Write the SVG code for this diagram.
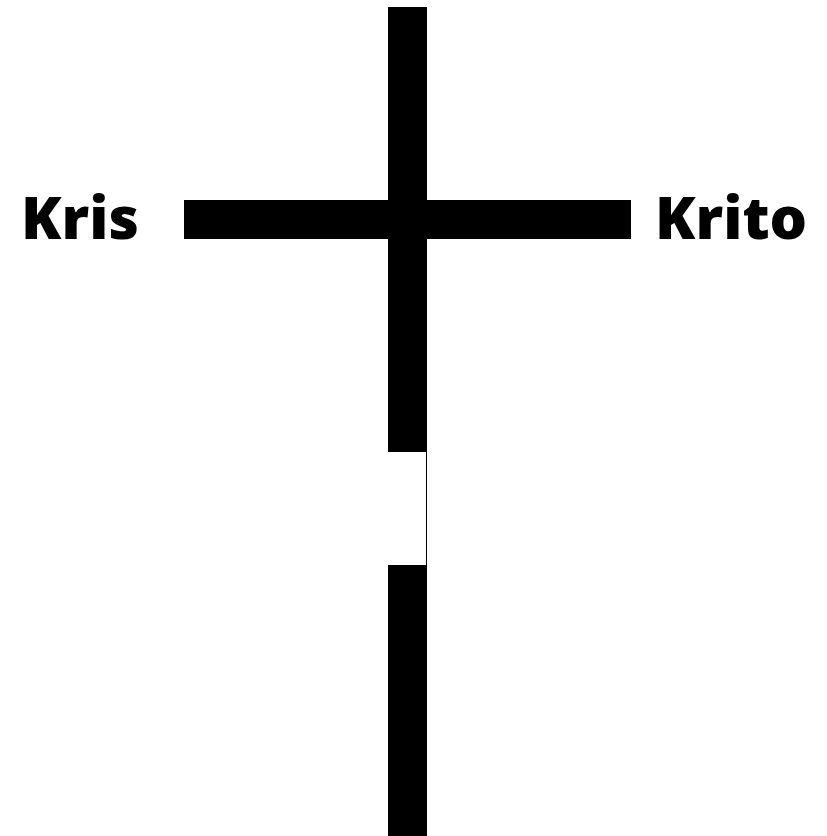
<svg xmlns="http://www.w3.org/2000/svg" width="827" height="836" viewBox="0 0 827 836">
<style>
.bar{fill:#000}
.lbl{font-family:"Open Sans",sans-serif;font-weight:800;font-size:59px;fill:#000}
</style>
<rect width="827" height="836" fill="#fff"/>
<g id="cross">
<rect class="bar" x="388" y="7" width="39" height="445"/>
<rect class="bar" x="184" y="200" width="447" height="39"/>
<rect class="bar" x="426" y="452" width="1" height="113"/>
<rect class="bar" x="388" y="565" width="39" height="271"/>
</g>
<g id="label-kris"><text class="lbl" x="21" y="239">Kris</text></g>
<g id="label-krito"><text class="lbl" x="655" y="239">Krito</text></g>
</svg>
